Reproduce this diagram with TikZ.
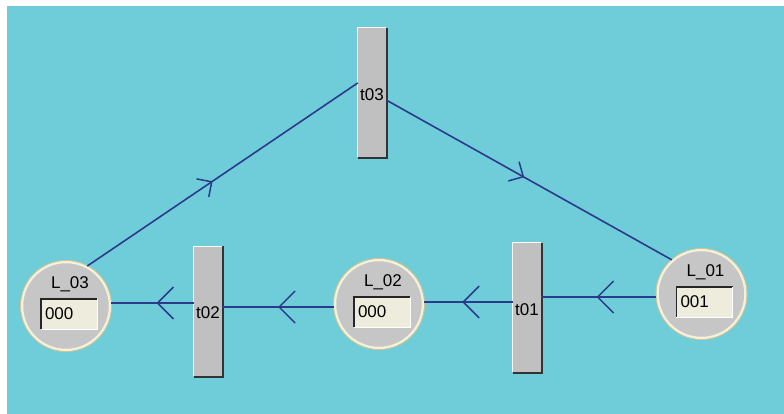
\documentclass[tikz,border=0pt]{standalone}
\usepackage{fontspec}
\setmainfont{Liberation Sans}
\usetikzlibrary{decorations.markings,calc}
\definecolor{bg}{HTML}{6FCDDA}
\definecolor{edgecol}{HTML}{2B3A8A}
\definecolor{trgray}{HTML}{C0C0C0}
\definecolor{plgray}{HTML}{C6C6C6}
\definecolor{ring}{HTML}{F4F0DC}
\definecolor{ringedge}{HTML}{D3C38E}
\definecolor{boxfill}{HTML}{EEEDDD}
\begin{document}
\begin{tikzpicture}[x=1pt,y=-1pt, font=\fontsize{17}{20}\selectfont,
  trans/.style={rectangle, fill=trgray, minimum width=28pt, minimum height=129pt, inner sep=0pt},
  place/.style={circle, fill=plgray, draw=ring, line width=2.5pt, minimum size=88pt, inner sep=0pt},
  valbox/.style={rectangle, fill=boxfill, minimum width=56pt, minimum height=30pt, inner sep=0pt},
  flow/.style 2 args={draw=edgecol, line width=1.6pt, postaction=decorate,
    decoration={markings, mark=at position #1 with {\draw[edgecol,line width=1.5pt] (-#2pt,-#2pt)--(0,0)--(-#2pt,#2pt);}}},
]
\useasboundingbox (0,0) rectangle (784,414);
\fill[bg] (7,6) rectangle (784,414);

% transitions
\node[trans] (t03) at (372,92.5) {};
\node (t03lab) at (372,95) {t03};
\node[trans] (t02) at (208,311) {};
\node (t02lab) at (208,313) {t02};
\node[trans] (t01) at (527,307.5) {};
\node (t01lab) at (527,310) {t01};
\foreach \t in {t01,t02,t03}{
  \draw[white, line width=1pt] (\t.south west) -- (\t.north west) -- (\t.north east);
  \draw[black!80, line width=1.8pt] ([xshift=0.9pt]\t.north east) -- ([xshift=0.9pt,yshift=-0.9pt]\t.south east) -- ([yshift=-0.9pt]\t.south west);
}

% places
\foreach \p/\x/\y/\n/\v in {L3/66/306/L\_03/000, L2/379/304/L\_02/000, L1/701.5/294/L\_01/001}{
  \node[place] (\p) at (\x,\y) {};
  \draw[ringedge, line width=0.8pt] (\p) circle (45.6pt);
  \node (\p lab) at ($(\p)+(4,-22)$) {\n};
  \node[valbox] (\p box) at ($(\p)+(3,8)$) {};
  \draw[black!85, line width=1.6pt] (\p box.south west) -- (\p box.north west) -- (\p box.north east);
  \draw[white, line width=1pt] (\p box.north east) -- (\p box.south east) -- (\p box.south west);
  \node[anchor=west, inner sep=0pt] (\p val) at ($(\p box.west)+(4,0)$) {\v};
}

% connection points
\coordinate (t03in) at ($(t03.north west)!0.426!(t03.south west)$);
\coordinate (t03out) at ($(t03.north east)!0.558!(t03.south east)$);
\coordinate (t01in) at (t01.east |- 0,297);
\coordinate (t01out) at (t01.west |- 0,302);
\coordinate (t02in) at (t02.east |- 0,307);
\coordinate (t02out) at (t02.west |- 0,303);

% arcs
\draw[flow={0.46}{11}] (L3.62) -- (t03in);
\draw[flow={0.48}{11}] (t03out) -- (L1.131);
\draw[flow={0.51}{16}] (L1.west |- t01in) -- (t01in);
\draw[flow={0.56}{16}] (t01out) -- (L2.east |- t01out);
\draw[flow={0.49}{16}] (L2.west |- t02in) -- (t02in);
\draw[flow={0.44}{16}] (t02out) -- (L3.east |- t02out);
\end{tikzpicture}
\end{document}
